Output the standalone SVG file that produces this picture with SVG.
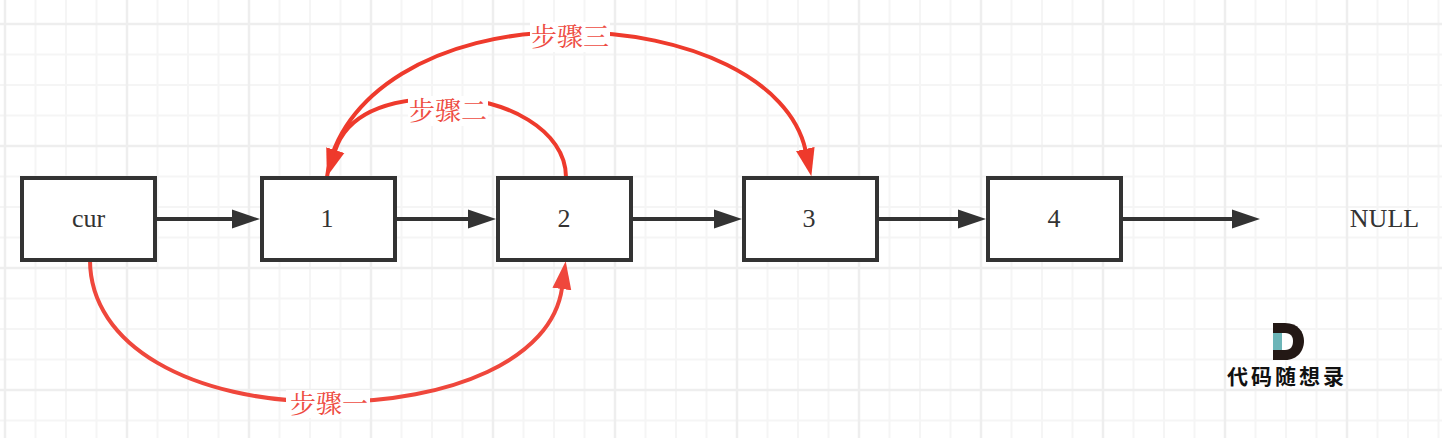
<svg xmlns="http://www.w3.org/2000/svg" width="1442" height="438" viewBox="0 0 1442 438">
<style>
.box{fill:#fff;stroke:#333;stroke-width:4}
.t{font-family:"Liberation Serif","Noto Sans CJK SC",serif;font-size:26px;fill:#333;text-anchor:middle}
.lab{font-family:"Liberation Serif","Noto Serif CJK SC","Noto Sans CJK SC",serif;font-size:26px;fill:#ee4c42;text-anchor:middle}
.bg{fill:#fff}
.blk{fill:none;stroke:#333;stroke-width:4}
.red{fill:none;stroke:#ee3a2c;stroke-width:4}
.red2{fill:none;stroke:#ef473c;stroke-width:4}
.minor{stroke:#f5f5f5;stroke-width:2;fill:none}
.major{stroke:#eeeeee;stroke-width:2.500;fill:none}
</style>
<defs>
<pattern id="grid" width="122" height="122" patternUnits="userSpaceOnUse" x="5" y="24">
<path class="minor" d="M30.5 0V122M61 0V122M91.500 0V122M0 30.500H122M0 61H122M0 91.500H122"/>
<path class="major" d="M0 0V122M122 0V122M0 0H122M0 122H122"/>
</pattern>
<marker id="ab" markerUnits="userSpaceOnUse" markerWidth="32" markerHeight="22" refX="1" refY="11" orient="auto"><path d="M0 1.500L28 11L0 20.500Z" fill="#333"/></marker>
<marker id="ar" markerUnits="userSpaceOnUse" markerWidth="32" markerHeight="22" refX="1" refY="11" orient="auto"><path d="M0 1.500L28 11L0 20.500Z" fill="#ee3a2c"/></marker>
<marker id="ar2" markerUnits="userSpaceOnUse" markerWidth="32" markerHeight="22" refX="1" refY="11" orient="auto"><path d="M0 1.500L28 11L0 20.500Z" fill="#ef473c"/></marker>
</defs>
<rect width="1442" height="438" fill="#fff"/>
<rect width="1442" height="438" fill="url(#grid)"/>
<g id="connectors">
<path class="blk" marker-end="url(#ab)" d="M155 219H233"/>
<path class="blk" marker-end="url(#ab)" d="M396 219H469"/>
<path class="blk" marker-end="url(#ab)" d="M632 219H715"/>
<path class="blk" marker-end="url(#ab)" d="M877 219H959"/>
<path class="blk" marker-end="url(#ab)" d="M1121 219H1233"/>
<path class="red2" marker-end="url(#ar2)" d="M90 260C90 345 190 402 330 402C450 402 552 360 562 288"/>
<path class="red" marker-end="url(#ar)" d="M566 177C566 130 505 98 447 98C395 98 348 110 335 151"/>
<path class="red" marker-end="url(#ar)" d="M327 177C338 95 435 32 569 32C690 32 790 80 805.500 150"/>
</g>
<g id="label-step1"><rect class="bg" x="286" y="390" width="84" height="28"/><text class="lab" x="329" y="413">步骤一</text></g>
<g id="label-step2"><rect class="bg" x="408" y="96" width="80" height="30"/><text class="lab" x="448" y="120">步骤二</text></g>
<g id="label-step3"><rect class="bg" x="530" y="22" width="80" height="30"/><text class="lab" x="570" y="46">步骤三</text></g>
<g id="node-cur"><rect class="box" x="22" y="178" width="133" height="82"/><text class="t" x="88.500" y="227">cur</text></g>
<g id="node-1"><rect class="box" x="262" y="178" width="133" height="82"/><text class="t" x="327" y="227">1</text></g>
<g id="node-2"><rect class="box" x="498" y="178" width="133" height="82"/><text class="t" x="564" y="227">2</text></g>
<g id="node-3"><rect class="box" x="744" y="178" width="133" height="82"/><text class="t" x="809" y="227">3</text></g>
<g id="node-4"><rect class="box" x="988" y="178" width="133" height="82"/><text class="t" x="1054" y="227">4</text></g>
<g id="node-null"><text class="t" x="1384.500" y="227">NULL</text></g>
<g id="logo">
<path d="M1273 323H1285C1298 323 1304 332 1304 341C1304 350 1298 360 1285 360H1273Z" fill="#231815"/>
<path d="M1282 333H1285C1291 333 1293 337 1293 341C1293 346 1291 350 1285 350H1282Z" fill="#fff"/>
<rect x="1273" y="333" width="9" height="17" fill="#6cb5b8"/>
<text x="1287" y="384" font-family="'Noto Sans CJK SC',sans-serif" font-weight="700" font-size="21" letter-spacing="3" text-anchor="middle" fill="#111">代码随想录</text>
</g>
</svg>
